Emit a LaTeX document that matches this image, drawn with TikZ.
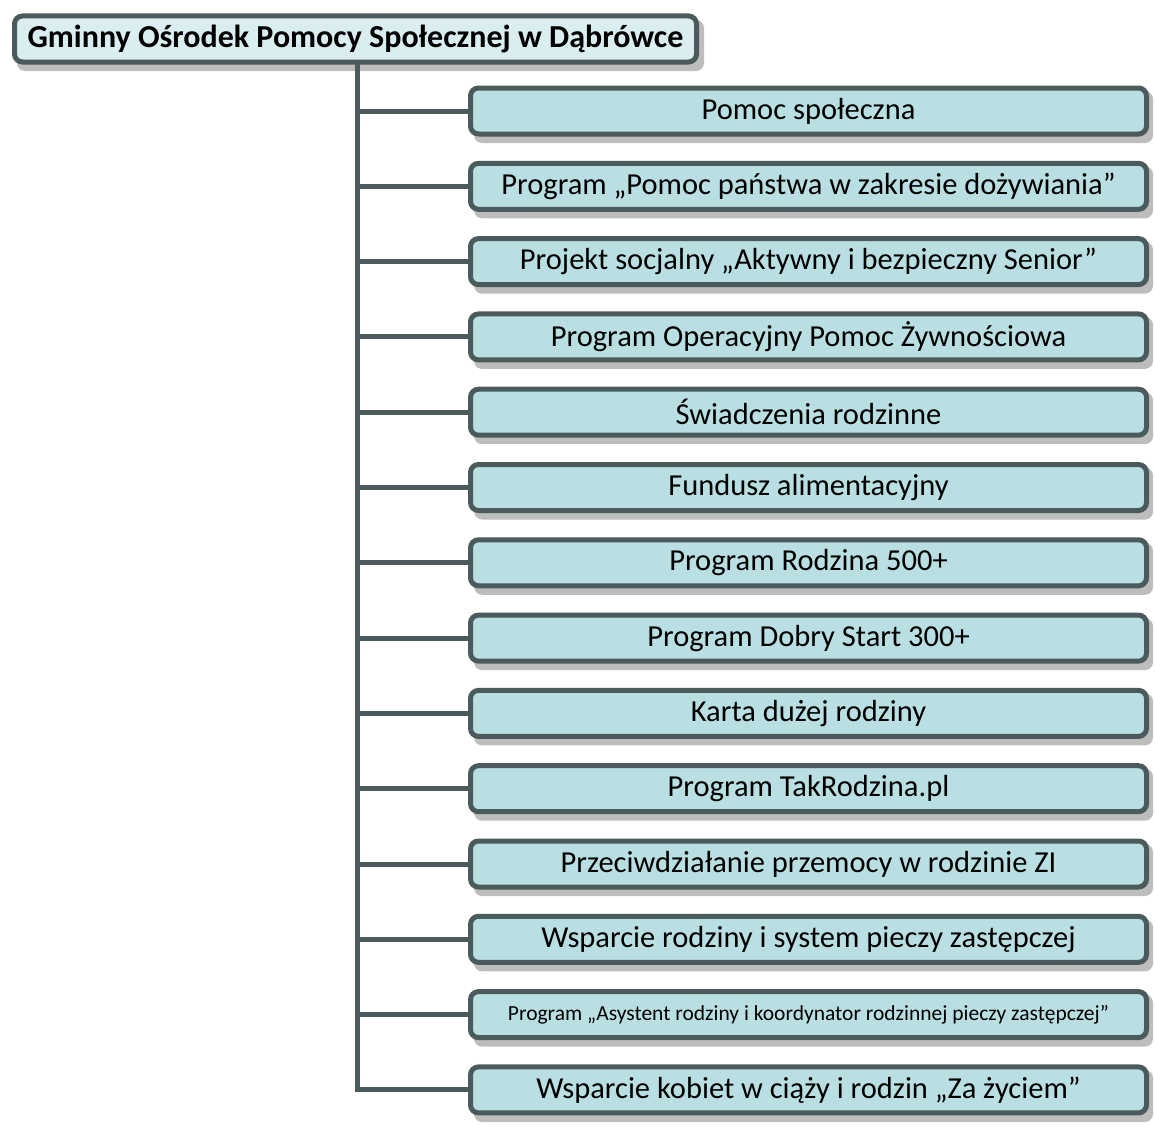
\documentclass[tikz,border=0pt]{standalone}
\usepackage{fontspec}
\setmainfont{Carlito}
\definecolor{bord}{HTML}{4B5A5A}
\definecolor{topfill}{HTML}{DAEEF1}
\definecolor{boxfill}{HTML}{B9DFE3}
\definecolor{shad}{HTML}{BDBDBD}
\begin{document}
\begin{tikzpicture}[x=1pt,y=-1pt,
  box/.style={draw=bord,line width=5pt,rounded corners=8pt,fill=boxfill,
    minimum width=676pt,minimum height=46pt,inner sep=0pt,font=\fontsize{30.5}{34}\selectfont,
    anchor=west},
  topbox/.style={box,fill=topfill,minimum width=682pt,minimum height=46pt,
    font=\bfseries\fontsize{32}{36}\selectfont},
  conn/.style={draw=bord,line width=5pt}]
\useasboundingbox (0,0) rectangle (1155,1124);
% shadows
\fill[shad,rounded corners=8pt] (17,20) rectangle (704,71);
\foreach \i in {0,...,13}{
  \pgfmathsetmacro{\yc}{111+75.3*\i}
  \fill[shad,rounded corners=8pt] (474,\yc-20) rectangle (1153,\yc+32);
}
\node[topbox] (top) at (12,39) {Gminny Ośrodek Pomocy Społecznej w Dąbrówce};
\coordinate (trunktop) at (357,64);
\node[box] (b0) at (468,111) {Pomoc społeczna};
\node[box] (b1) at (468,186.3) {Program „Pomoc państwa w zakresie dożywiania”};
\node[box] (b2) at (468,261.6) {Projekt socjalny „Aktywny i bezpieczny Senior”};
\node[box] (b3) at (468,336.9) {Program Operacyjny Pomoc Żywnościowa};
\node[box] (b4) at (468,412.2) {Świadczenia rodzinne};
\node[box] (b5) at (468,487.5) {Fundusz alimentacyjny};
\node[box] (b6) at (468,562.8) {Program Rodzina 500+};
\node[box] (b7) at (468,638.1) {Program Dobry Start 300+};
\node[box] (b8) at (468,713.4) {Karta dużej rodziny};
\node[box] (b9) at (468,788.7) {Program TakRodzina.pl};
\node[box] (b10) at (468,864.0) {Przeciwdziałanie przemocy w rodzinie ZI};
\node[box] (b11) at (468,939.3) {Wsparcie rodziny i system pieczy zastępczej};
\node[box,font=\fontsize{21.5}{24}\selectfont] (b12) at (468,1014.6) {Program „Asystent rodziny i koordynator rodzinnej pieczy zastępczej”};
\node[box] (b13) at (468,1089.9) {Wsparcie kobiet w ciąży i rodzin „Za życiem”};
\coordinate (trunkbot) at (357,1089.9);
\draw[conn,line cap=rect] (top.south -| trunktop) -- (trunkbot);
\foreach \i in {0,...,13}{
  \draw[conn] (b\i.west -| trunktop) -- (b\i.west);
}
\end{tikzpicture}
\end{document}
